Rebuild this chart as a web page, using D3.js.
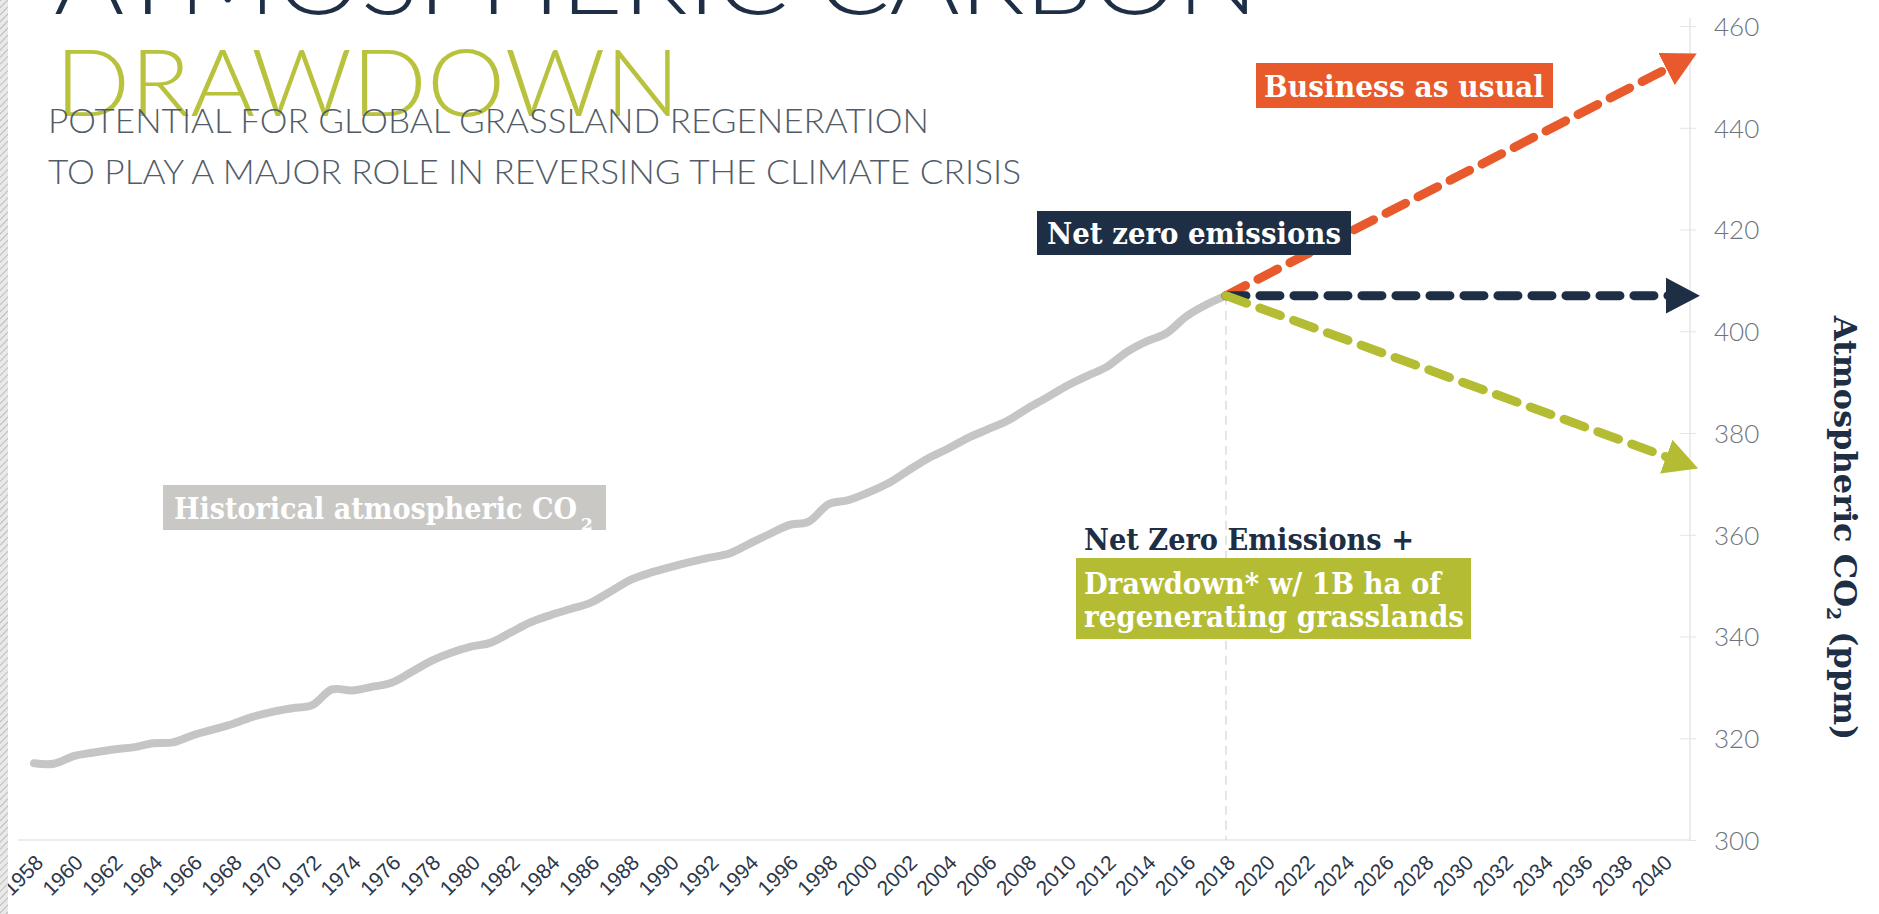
<!DOCTYPE html>
<html>
<head>
<meta charset="utf-8">
<script src="https://cdn.jsdelivr.net/npm/d3@7"></script>
<style>
  html, body { margin: 0; padding: 0; background: #fff; overflow: hidden; }
  svg { display: block; }
  .slab { font-family: "DejaVu Serif", "Liberation Serif", serif; font-weight: bold; }
  .thin { font-family: Lato, Roboto, "Open Sans", sans-serif; font-weight: 300; }
</style>
</head>
<body>
<div id="chart"></div>
<script>
// --- dati ---

// CO2 storico (ppm), un valore per anno
const years = [1958, 1959, 1960, 1961, 1962, 1963, 1964, 1965, 1966, 1967,
  1968, 1969, 1970, 1971, 1972, 1973, 1974, 1975, 1976, 1977,
  1978, 1979, 1980, 1981, 1982, 1983, 1984, 1985, 1986, 1987,
  1988, 1989, 1990, 1991, 1992, 1993, 1994, 1995, 1996, 1997,
  1998, 1999, 2000, 2001, 2002, 2003, 2004, 2005, 2006, 2007,
  2008, 2009, 2010, 2011, 2012, 2013, 2014, 2015, 2016, 2017, 2018];
const co2 = [315.1, 315.0, 316.5, 317.2, 317.8, 318.2, 319.0, 319.2, 320.6, 321.7,
  322.8, 324.2, 325.2, 325.9, 326.5, 329.6, 329.4, 330.1, 330.9, 333.0,
  335.2, 336.8, 338.0, 338.8, 340.8, 342.8, 344.2, 345.4, 346.6, 348.8,
  351.1, 352.5, 353.6, 354.6, 355.5, 356.3, 358.2, 360.1, 361.9, 362.6,
  366.0, 366.8, 368.3, 370.1, 372.6, 375.0, 376.9, 379.0, 380.7, 382.4,
  384.8, 387.0, 389.3, 391.2, 393.0, 395.9, 398.0, 399.6, 402.9, 405.2, 407.0];

// scenari futuri (inizio e fine della freccia)
const projYears = [2018, 2040.4];
const businessAsUsual = [407, 452];
const netZero = [407, 407];
const drawdown = [407, 375];

// etichette degli assi
const yTicks = [300, 320, 340, 360, 380, 400, 420, 440, 460];
const xTickYears = [1958, 1960, 1962, 1964, 1966, 1968, 1970, 1972, 1974, 1976,
  1978, 1980, 1982, 1984, 1986, 1988, 1990, 1992, 1994, 1996,
  1998, 2000, 2002, 2004, 2006, 2008, 2010, 2012, 2014, 2016,
  2018, 2020, 2022, 2024, 2026, 2028, 2030, 2032, 2034, 2036, 2038, 2040];

// colori
const ORANGE = '#e8592b';
const NAVY = '#1d2e45';
const GREEN = '#b3bc33';
const GREY_LINE = '#c5c5c5';

const width = 1879, height = 914;
const axisX = 1690;

const svg = d3.select('#chart').append('svg')
  .attr('width', width).attr('height', height)
  .attr('viewBox', `0 0 ${width} ${height}`);

const x = d3.scaleLinear().domain([1958, 2040]).range([34, 1663]);
const y = d3.scaleLinear().domain([300, 460]).range([840, 26]);

// --- titolo ---
svg.append('text').attr('class', 'thin')
  .attr('x', 54).attr('y', 14)
  .attr('font-size', 92).attr('fill', NAVY)
  .attr('textLength', 1204).attr('lengthAdjust', 'spacingAndGlyphs')
  .text('ATMOSPHERIC CARBON');

svg.append('text').attr('class', 'thin')
  .attr('x', 55).attr('y', 116)
  .attr('font-size', 92).attr('fill', '#b8c23c')
  .attr('textLength', 625).attr('lengthAdjust', 'spacingAndGlyphs')
  .text('DRAWDOWN');

svg.append('text').attr('class', 'thin')
  .attr('x', 48).attr('y', 133)
  .attr('font-size', 34).attr('fill', '#525c68')
  .attr('textLength', 881).attr('lengthAdjust', 'spacingAndGlyphs')
  .text('POTENTIAL FOR GLOBAL GRASSLAND REGENERATION');

svg.append('text').attr('class', 'thin')
  .attr('x', 48).attr('y', 184)
  .attr('font-size', 34).attr('fill', '#525c68')
  .attr('textLength', 973).attr('lengthAdjust', 'spacingAndGlyphs')
  .text('TO PLAY A MAJOR ROLE IN REVERSING THE CLIMATE CRISIS');

// --- assi ---
const yAxis = d3.axisRight(y).tickValues(yTicks).tickSize(10).tickPadding(14);
const yAxisG = svg.append('g')
  .attr('transform', `translate(${axisX},0)`)
  .call(yAxis);
yAxisG.select('.domain').attr('stroke', '#ececec').attr('stroke-width', 2)
  .attr('d', `M0,${y(300)}V${y(460) - 8}`);
yAxisG.selectAll('.tick line').attr('x1', -10).attr('x2', 6).attr('stroke', '#e4e4e4');
yAxisG.selectAll('.tick text')
  .attr('class', 'thin').attr('font-size', 26).attr('fill', '#6e747b')
  .attr('dy', '0.36em');

// linea di base
svg.append('line')
  .attr('x1', x(1957.2)).attr('x2', axisX)
  .attr('y1', y(300)).attr('y2', y(300))
  .attr('stroke', '#ececec').attr('stroke-width', 2);

const xAxis = d3.axisBottom(x).tickValues(xTickYears).tickSize(0).tickFormat(d3.format('d'));
const xAxisG = svg.append('g')
  .attr('transform', `translate(0,${y(300) + 12})`)
  .call(xAxis);
xAxisG.select('.domain').remove();
xAxisG.selectAll('.tick text')
  .attr('font-family', '"Liberation Sans", Arial, sans-serif')
  .attr('font-size', 21).attr('fill', '#2c374a')
  .attr('text-anchor', 'end')
  .attr('y', 0).attr('dy', 0)
  .attr('transform', 'translate(10,12) rotate(-45)');

// linea tratteggiata verticale al 2018
svg.append('line')
  .attr('x1', x(2018)).attr('x2', x(2018))
  .attr('y1', y(407)).attr('y2', y(300))
  .attr('stroke', '#dcdcdc').attr('stroke-width', 1.5)
  .attr('stroke-dasharray', '9,6');

// --- serie storica ---
const line = d3.line().x(d => x(d[0])).y(d => y(d[1]));
const smooth = d3.line().x(d => x(d[0])).y(d => y(d[1])).curve(d3.curveCatmullRom.alpha(0.5));

svg.append('path')
  .datum(years.map((yr, i) => [yr, co2[i]]))
  .attr('d', smooth)
  .attr('fill', 'none').attr('stroke', GREY_LINE)
  .attr('stroke-width', 8).attr('stroke-linejoin', 'round').attr('stroke-linecap', 'round');

// --- frecce degli scenari ---
const defs = svg.append('defs');
function arrowHead(id, color) {
  defs.append('marker')
    .attr('id', id)
    .attr('markerUnits', 'userSpaceOnUse')
    .attr('viewBox', '0 -19 36 38')
    .attr('markerWidth', 36).attr('markerHeight', 38)
    .attr('refX', 5).attr('refY', 0)
    .attr('orient', 'auto')
    .append('path')
    .attr('d', 'M0,-18L34,0L0,18Z')
    .attr('fill', color);
}

const scenarios = [
  { id: 'bau', values: businessAsUsual, color: ORANGE, dash: '22,14' },
  { id: 'nz', values: netZero, color: NAVY, dash: '20,14' },
  { id: 'dd', values: drawdown, color: GREEN, dash: '22,14' }
];

scenarios.forEach(s => {
  arrowHead('arrow-' + s.id, s.color);
  svg.append('path')
    .datum(projYears.map((yr, i) => [yr, s.values[i]]))
    .attr('d', line)
    .attr('fill', 'none').attr('stroke', s.color)
    .attr('stroke-width', 9).attr('stroke-linecap', 'round')
    .attr('stroke-dasharray', s.dash)
    .attr('marker-end', `url(#arrow-${s.id})`);
});

// --- etichette ---
function box(x0, y0, w, h, color) {
  svg.append('rect').attr('x', x0).attr('y', y0).attr('width', w).attr('height', h).attr('fill', color);
}
function label(x0, y0, txt, len, color, size = 29) {
  return svg.append('text').attr('class', 'slab')
    .attr('x', x0).attr('y', y0)
    .attr('font-size', size).attr('fill', color)
    .attr('textLength', len).attr('lengthAdjust', 'spacingAndGlyphs')
    .text(txt);
}

box(1256, 63, 297, 45, ORANGE);
label(1264, 97, 'Business as usual', 280, '#fff');

box(1037, 211, 314, 44, NAVY);
label(1047, 244, 'Net zero emissions', 294, '#fff');

box(163, 485, 443, 45, '#c9c8c5');
label(174, 519, 'Historical atmospheric CO', 403, '#fff');
svg.append('text').attr('class', 'slab')
  .attr('x', 581).attr('y', 530).attr('font-size', 17).attr('fill', '#fff').text('2');

label(1084, 550, 'Net Zero Emissions +', 330, NAVY);
box(1076, 558, 395, 81, GREEN);
label(1084, 594, 'Drawdown* w/ 1B ha of', 357, '#fff');
label(1084, 627, 'regenerating grasslands', 380, '#fff');

// titolo asse y
const yTitle = svg.append('text').attr('class', 'slab')
  .attr('transform', 'translate(1834,528) rotate(90)')
  .attr('text-anchor', 'middle')
  .attr('font-size', 32).attr('fill', NAVY);
yTitle.append('tspan').text('Atmospheric CO');
yTitle.append('tspan').attr('font-size', 19).attr('dy', 7).text('2');
yTitle.append('tspan').attr('dy', -7).text(' (ppm)');

// bordo tratteggiato a sinistra
const pat = defs.append('pattern')
  .attr('id', 'hatch').attr('patternUnits', 'userSpaceOnUse')
  .attr('width', 5).attr('height', 5)
  .attr('patternTransform', 'rotate(45)');
pat.append('rect').attr('width', 5).attr('height', 5).attr('fill', '#e9e9e9');
pat.append('line').attr('x1', 0).attr('y1', 0).attr('x2', 0).attr('y2', 5)
  .attr('stroke', '#bdbdbd').attr('stroke-width', 2);
svg.append('rect').attr('x', 0).attr('y', 0).attr('width', 8).attr('height', height)
  .attr('fill', 'url(#hatch)');
</script>
</body>
</html>
